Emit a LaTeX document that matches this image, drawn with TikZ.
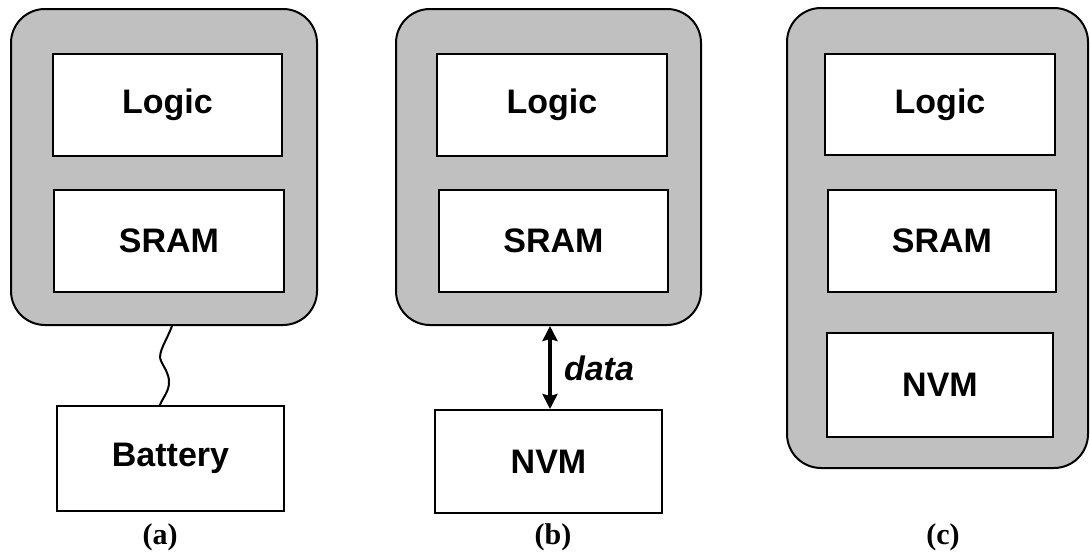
\documentclass[tikz,border=0pt]{standalone}
\usepackage{fontspec}
\setmainfont{Liberation Serif}
\newfontfamily\arial{Liberation Sans}
\usetikzlibrary{arrows.meta}

\tikzset{
  chip/.style={draw=black, line width=2pt, fill=chipgray, rounded corners=34pt,
               inner sep=0pt, anchor=center},
  block/.style={draw=black, line width=2pt, fill=white, inner sep=0pt,
                font=\arial\bfseries\fontsize{34}{40}\selectfont},
  caption/.style={font=\bfseries\fontsize{30}{36}\selectfont, inner sep=0pt},
  wire/.style={line width=2pt, line cap=round},
  dataarrow/.style={line width=4pt, {Stealth[length=15pt,width=15pt,inset=2pt]}-{Stealth[length=15pt,width=15pt,inset=2pt]}},
}
\definecolor{chipgray}{HTML}{C0C0C0}

\begin{document}
\begin{tikzpicture}[x=1pt, y=-1pt]
\useasboundingbox (0,0) rectangle (1090,554);

% (a) chip powered by a battery
\node[chip, minimum width=306pt, minimum height=316pt] (ca) at (164,167) {};
\node[block, minimum width=229pt, minimum height=102pt] (la) at (167.5,105) {Logic};
\node[block, minimum width=230pt, minimum height=102pt] (sa) at (169,241) {SRAM};
\node[block, minimum width=227pt, minimum height=105pt] (bat) at (170.5,458.5) {Battery};
\draw[wire] ([xshift=8pt]ca.south) .. controls +(-5,14) and +(-4,-8) .. (161,361)
  .. controls +(4,8) and +(0,-8) .. (169,382)
  .. controls +(0,10) and +(3,-8) .. ([xshift=-10.5pt]bat.north);
\node[caption] (capa) at (160,537) {(a)};

% (b) chip with an external NVM
\node[chip, minimum width=305pt, minimum height=316pt] (cb) at (548.5,167) {};
\node[block, minimum width=230pt, minimum height=102pt] (lb) at (552,105) {Logic};
\node[block, minimum width=229pt, minimum height=102pt] (sb) at (553.5,241) {SRAM};
\node[block, minimum width=227pt, minimum height=103pt] (nb) at (548.5,461.5) {NVM};
\draw[dataarrow] ([xshift=1.5pt]cb.south) -- ([xshift=1.5pt]nb.north)
  node[midway, anchor=west, xshift=12pt, yshift=-1pt, inner sep=0pt,
       font=\arial\bfseries\itshape\fontsize{34}{40}\selectfont] (dl) {data};
\node[caption] (capb) at (553,537) {(b)};

% (c) chip with on-chip NVM
\node[chip, minimum width=301pt, minimum height=460pt] (cc) at (937.5,238) {};
\node[block, minimum width=230pt, minimum height=101pt] (lc) at (940,104.5) {Logic};
\node[block, minimum width=228pt, minimum height=102pt] (sc) at (942,241) {SRAM};
\node[block, minimum width=226pt, minimum height=104pt] (nc) at (940,385) {NVM};
\node[caption] (capc) at (943,537) {(c)};
\end{tikzpicture}
\end{document}
